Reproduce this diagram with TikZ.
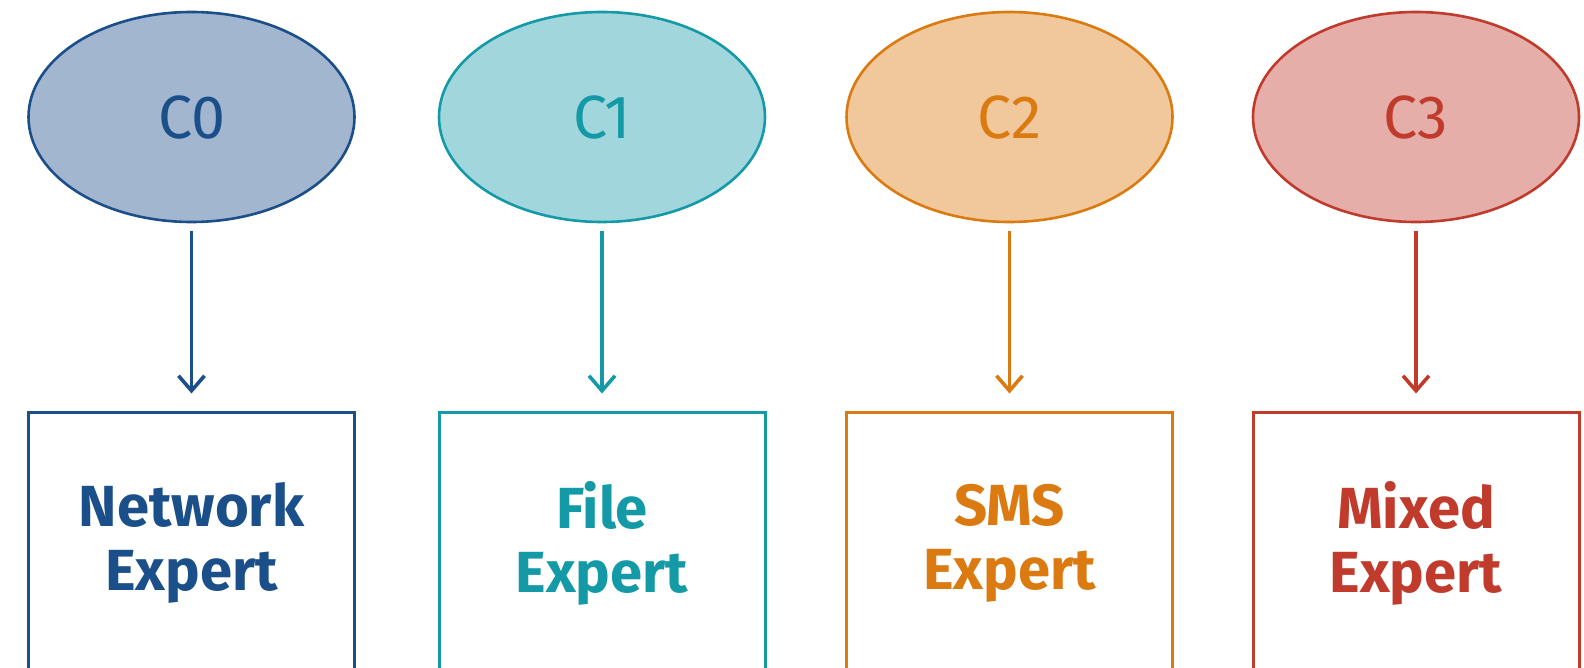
\documentclass[tikz,border=0pt]{standalone}
\usepackage{fontspec}
\setmainfont{Fira Sans}
\usetikzlibrary{shapes.geometric,arrows.meta}

\definecolor{blueS}{HTML}{1B4F8A}
\definecolor{blueF}{HTML}{A3B6CF}
\definecolor{tealS}{HTML}{1499A6}
\definecolor{tealF}{HTML}{A1D6DC}
\definecolor{orangeS}{HTML}{DA7A10}
\definecolor{orangeF}{HTML}{F0C89B}
\definecolor{redS}{HTML}{C13B2D}
\definecolor{redF}{HTML}{E5AEA9}

\tikzset{
  cluster/.style={ellipse, draw=#1, line width=2.6pt, minimum width=326pt,
    minimum height=210pt, inner sep=0pt, text=#1,
    font=\fontsize{61}{64}\selectfont},
  expert/.style={rectangle, draw=#1, line width=3pt, minimum width=326pt,
    minimum height=262pt, inner sep=0pt, align=center, text=#1,
    font=\fontsize{58}{64}\selectfont\bfseries},
  feed/.style={draw=#1, line width=3.6pt, shorten <=8pt, shorten >=17pt,
    -{Straight Barb[length=15pt,width=26pt,line width=3.6pt]}}
}

\begin{document}
\begin{tikzpicture}[x=1pt,y=-1pt]
  \useasboundingbox (0,0) rectangle (1584,668);
  \clip (0,0) rectangle (1584,668);

  % clusters
  \node[cluster=blueS, fill=blueF]     (c0) at (191.5,117) {C0};
  \node[cluster=tealS, fill=tealF]     (c1) at (602,117) {C1};
  \node[cluster=orangeS, fill=orangeF] (c2) at (1009.5,117) {C2};
  \node[cluster=redS, fill=redF]       (c3) at (1416,117) {C3};

  % experts
  \node[expert=blueS]   (e0) at (191.5,543) {Network\\Expert};
  \node[expert=tealS]   (e1) at (602,543) {File\\Expert};
  \node[expert=orangeS] (e2) at (1009.5,543) {SMS\\Expert};
  \node[expert=redS]    (e3) at (1416,543) {Mixed\\Expert};

  % routing arrows
  \draw[feed=blueS]   (c0.south) -- (e0.north);
  \draw[feed=tealS]   (c1.south) -- (e1.north);
  \draw[feed=orangeS] (c2.south) -- (e2.north);
  \draw[feed=redS]    (c3.south) -- (e3.north);
\end{tikzpicture}
\end{document}
